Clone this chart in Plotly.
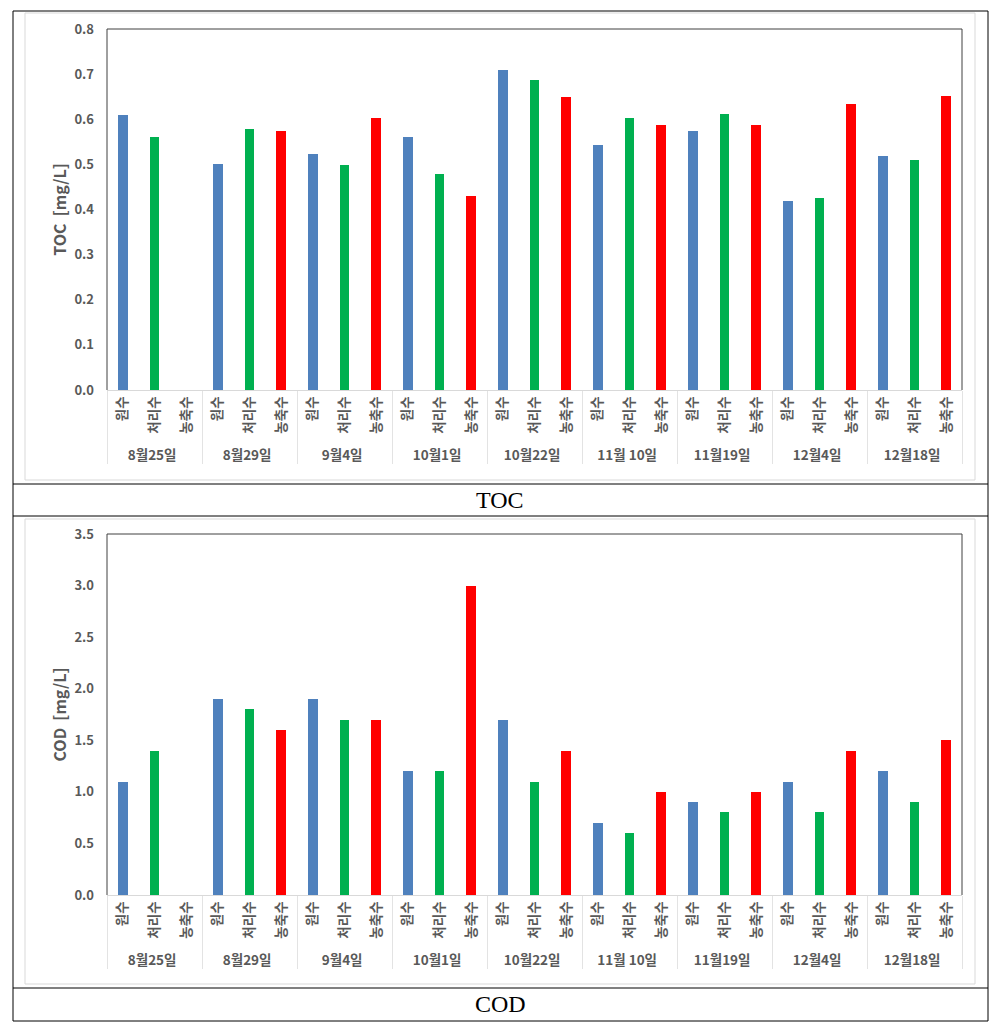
import plotly.graph_objects as go

dates = ["8월25일", "8월29일", "9월4일", "10월1일", "10월22일",
         "11월 10일", "11월19일", "12월4일", "12월18일"]
types = ["원수", "처리수", "농축수"]
colors = ["#4F81BD", "#00B050", "#FF0000"]

toc_raw = [0.61, 0.50, 0.524, 0.56, 0.709, 0.542, 0.574, 0.418, 0.519]
toc_treated = [0.56, 0.578, 0.498, 0.479, 0.687, 0.603, 0.612, 0.425, 0.510]
toc_conc = [None, 0.574, 0.603, 0.43, 0.649, 0.588, 0.587, 0.633, 0.651]

cod_raw = [1.1, 1.9, 1.9, 1.2, 1.7, 0.7, 0.9, 1.1, 1.2]
cod_treated = [1.4, 1.8, 1.7, 1.2, 1.1, 0.6, 0.8, 0.8, 0.9]
cod_conc = [None, 1.6, 1.7, 3.0, 1.4, 1.0, 1.0, 1.4, 1.5]

W, H = 997, 1032


def flatten(series):
    lvl1, lvl2, vals, cols = [], [], [], []
    for i, d in enumerate(dates):
        for j, t in enumerate(types):
            lvl1.append(d)
            lvl2.append(t)
            vals.append(series[j][i])
            cols.append(colors[j])
    return lvl1, lvl2, vals, cols


fig = go.Figure()

panels = [
    ("x", "y", [toc_raw, toc_treated, toc_conc]),
    ("x2", "y2", [cod_raw, cod_treated, cod_conc]),
]
for xa, ya, ser in panels:
    l1, l2, v, c = flatten(ser)
    fig.add_trace(go.Bar(x=[l1, l2], y=v, marker=dict(color=c, line_width=0),
                         width=0.31, xaxis=xa, yaxis=ya, showlegend=False))

gray = "#595959"
xtickfont = dict(family="Noto Sans CJK KR", size=13.5, color=gray, weight="bold")
ytickfont = dict(family="Noto Sans CJK KR", size=13, color=gray, weight="bold")
xdom = [107 / W, 962 / W]


def ydom(top, bottom):
    return [1 - bottom / H, 1 - top / H]


common_x = dict(type="multicategory", domain=xdom, tickangle=-90, tickfont=xtickfont,
                showline=True, linecolor="#D9D9D9", linewidth=1,
                showdividers=True, dividercolor="#E3E3E3", dividerwidth=1,
                ticks="", showgrid=False, fixedrange=True, automargin=False)
title_font = dict(family="Noto Sans CJK KR", size=16, color=gray, weight="bold")
ycommon = dict(tickformat=".1f", tickfont=ytickfont, showgrid=False, zeroline=False,
               ticks="", ticklabelstandoff=12, automargin=False, fixedrange=True)
fig.update_layout(
    width=W, height=H, margin=dict(l=0, r=0, t=0, b=0, pad=0, autoexpand=False),
    autosize=False, showlegend=False,
    paper_bgcolor="white", plot_bgcolor="white",
    bargap=0, barmode="overlay",
    xaxis=dict(**common_x, anchor="y"),
    xaxis2=dict(**common_x, anchor="y2"),
    yaxis=dict(**ycommon, domain=ydom(29, 390), range=[0, 0.8], dtick=0.1, anchor="x",
               title=dict(text="TOC\u00a0\u00a0[mg/L]", font=title_font, standoff=3)),
    yaxis2=dict(**ycommon, domain=ydom(534, 895), range=[0, 3.5], dtick=0.5, anchor="x2",
                title=dict(text="COD\u00a0\u00a0[mg/L]", font=title_font, standoff=3)),
)

shapes = []
# plot area borders
for xr, yr in [("x domain", "y domain"), ("x2 domain", "y2 domain")]:
    shapes.append(dict(type="path", xref=xr, yref=yr,
                       path="M 0 0 L 0 1 L 1 1 L 1 0",
                       line=dict(color="#404040", width=1)))


def px_rect(x0, y0, x1, y1, color, width=1):
    return dict(type="rect", xref="paper", yref="paper",
                x0=x0 / W, x1=x1 / W, y0=1 - y1 / H, y1=1 - y0 / H,
                line=dict(color=color, width=width), layer="below")


def px_line(x0, y0, x1, y1, color="black", width=1):
    return dict(type="line", xref="paper", yref="paper",
                x0=x0 / W, x1=x1 / W, y0=1 - y0 / H, y1=1 - y1 / H,
                line=dict(color=color, width=width))


# chart area (light) borders
shapes.append(px_rect(25, 13, 975, 480, "#D9D9D9"))
shapes.append(px_rect(25, 519, 975, 984, "#D9D9D9"))
# table borders
for y in [11, 484, 516, 988, 1021]:
    shapes.append(px_line(13, y, 988, y))
shapes.append(px_line(13, 11, 13, 1021))
shapes.append(px_line(988, 11, 988, 1021))

fig.update_layout(shapes=shapes)

cap_font = dict(family="Liberation Serif", size=24, color="black")
fig.add_annotation(text="TOC", x=500 / W, y=1 - 500 / H, xref="paper", yref="paper",
                   showarrow=False, font=cap_font, xanchor="center", yanchor="middle")
fig.add_annotation(text="COD", x=500 / W, y=1 - 1004 / H, xref="paper", yref="paper",
                   showarrow=False, font=cap_font, xanchor="center", yanchor="middle")

fig.write_html("out.html", config={"displayModeBar": False},
               post_script="document.body.style.margin='0';document.body.style.padding='0';"
                           "document.body.style.overflow='hidden';")
